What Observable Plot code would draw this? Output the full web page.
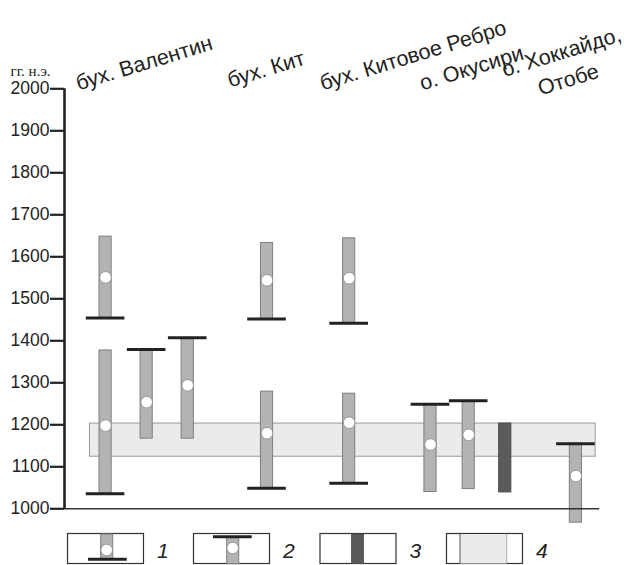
<!DOCTYPE html>
<html>
<head>
<meta charset="utf-8">
<script src="https://cdn.jsdelivr.net/npm/d3@7"></script>
<script src="https://cdn.jsdelivr.net/npm/@observablehq/plot@0.6"></script>
<style>
  html, body { margin: 0; padding: 0; background: #fff; }
  #chart svg { display: block; overflow: visible; }
</style>
</head>
<body>
<div id="chart"></div>
<script>
// ---- data ----
// slot = position of each dated interval along the (unlabelled) horizontal axis
const slots  = [0, 0, 1, 2, 3.93, 3.93, 5.93, 5.93, 7.91, 8.84, 9.73, 11.45];
const lows   = [1454, 1036, 1167, 1167, 1452, 1049, 1442, 1061, 1040, 1047, 1039, 967];
const highs  = [1648, 1377, 1379, 1407, 1633, 1279, 1644, 1274, 1249, 1257, 1203, 1155];
const mids   = [1551, 1198, 1254, 1294, 1544, 1180, 1549, 1205, 1153, 1176, null, 1078];
const kinds  = [1, 1, 2, 2, 1, 1, 1, 1, 2, 2, 3, 2]; // legend types 1..3
const bandLow = 1124, bandHigh = 1203;               // legend type 4
const bandFrom = -0.38, bandTo = 11.93;
const siteNames = ["бух. Валентин", "бух. Кит", "бух. Китовое Ребро", "о. Окусири", "о. Хоккайдо,", "Отобе"];
const yTicks = [1000, 1100, 1200, 1300, 1400, 1500, 1600, 1700, 1800, 1900, 2000];
const unitLabel = "гг. н.э.";
const legendLabels = ["1", "2", "3", "4"];

// label anchors (layout): start of each rotated line
const labelX = [-0.66, 3.03, 5.28, 7.71, 9.71, 10.59];
const labelY = [1996, 2003, 1996, 1996, 2028, 1984];

const rows = slots.map((s, i) => ({slot: s, lo: lows[i], hi: highs[i], mid: mids[i], kind: kinds[i]}));
const capRows = rows.filter(d => d.kind !== 3).map(d => ({slot: d.slot, y: d.kind === 1 ? d.lo : d.hi}));
const midRows = rows.filter(d => d.mid != null);
const labels = siteNames.map((t, i) => ({text: t, x: labelX[i], y: labelY[i]}));

const FONT = "'Liberation Sans', Arial, sans-serif";
const halfBar = 0.148, halfCap = 0.47;

const plot = Plot.plot({
  width: 624,
  height: 528,
  marginLeft: 64,
  marginRight: 26,
  marginTop: 88.3,
  marginBottom: 19.7,
  style: {fontFamily: FONT, background: "white", overflow: "visible"},
  x: {type: "linear", domain: [-1, 12], axis: null},
  y: {domain: [1000, 2000], axis: null},
  marks: [
    // light band (type 4)
    Plot.rect([{x1: bandFrom, x2: bandTo, y1: bandLow, y2: bandHigh}],
      {x1: "x1", x2: "x2", y1: "y1", y2: "y2", fill: "#ebebeb", stroke: "#9a9a9a", strokeWidth: 1}),
    // bars
    Plot.rect(rows, {
      x1: d => d.slot - halfBar, x2: d => d.slot + halfBar, y1: "lo", y2: "hi",
      fill: d => d.kind === 3 ? "#5b5b5b" : "#b3b3b3",
      stroke: d => d.kind === 3 ? "#4a4a4a" : "#7f7f7f", strokeWidth: 1
    }),
    // caps
    Plot.ruleY(capRows, {y: "y", x1: d => d.slot - halfCap, x2: d => d.slot + halfCap, stroke: "#222", strokeWidth: 3}),
    // midpoints
    Plot.dot(midRows, {x: "slot", y: "mid", r: 5.8, fill: "white", stroke: "#8a8a8a", strokeWidth: 0.8}),
    // axes
    Plot.ruleY([1000], {x1: -1, x2: 12.03, stroke: "#333", strokeWidth: 1.6}),
    Plot.ruleX([-1], {y1: 1000, y2: 2000, stroke: "#222", strokeWidth: 2.6}),
    Plot.axisY({ticks: yTicks, tickSize: 14, tickPadding: 1, fontSize: 17.5, stroke: "#222", strokeWidth: 2.2, color: "#222", tickFormat: d => String(d), label: null}),
    Plot.text([unitLabel], {frameAnchor: "top-left", dx: -54, dy: -13, text: d => d, fontSize: 15, fontFamily: "'Liberation Serif', 'Times New Roman', serif", fill: "#222", textAnchor: "start", lineAnchor: "bottom", style: "letter-spacing: 0.8px"}),
    // site labels
    Plot.text(labels, {x: "x", y: "y", text: "text", rotate: -17, textAnchor: "start", lineAnchor: "bottom", fontSize: 21.5, fill: "#222"})
  ]
});
document.getElementById("chart").appendChild(plot);

// ---- legend ----
const lg = d3.select("#chart").append("svg").attr("width", 624).attr("height", 37)
  .style("display", "block").style("font-family", FONT);
const boxW = 76, boxH = 30, boxY = 5;
const boxXs = [67, 193, 319.5, 446];
boxXs.forEach((bx, i) => {
  const g = lg.append("g").attr("transform", `translate(${bx},${boxY})`);
  g.append("rect").attr("x", 0.5).attr("y", 0.5).attr("width", boxW).attr("height", boxH).attr("fill", "white").attr("stroke", "#333").attr("stroke-width", 1.2);
  if (i === 0) {
    g.append("rect").attr("x", 33.7).attr("y", 1).attr("width", 12).attr("height", 25.5).attr("fill", "#b3b3b3").attr("stroke", "#7f7f7f");
    g.append("circle").attr("cx", 39.7).attr("cy", 17).attr("r", 5.8).attr("fill", "white").attr("stroke", "#8a8a8a").attr("stroke-width", 0.8);
    g.append("line").attr("x1", 21).attr("x2", 59.7).attr("y1", 26.3).attr("y2", 26.3).attr("stroke", "#222").attr("stroke-width", 3);
  } else if (i === 1) {
    g.append("rect").attr("x", 33.7).attr("y", 3.7).attr("width", 12).attr("height", 27).attr("fill", "#b3b3b3").attr("stroke", "#7f7f7f");
    g.append("circle").attr("cx", 39.7).attr("cy", 15).attr("r", 5.8).attr("fill", "white").attr("stroke", "#8a8a8a").attr("stroke-width", 0.8);
    g.append("line").attr("x1", 20).attr("x2", 58.7).attr("y1", 3.7).attr("y2", 3.7).attr("stroke", "#222").attr("stroke-width", 3);
  } else if (i === 2) {
    g.append("rect").attr("x", 32.2).attr("y", 1).attr("width", 11.6).attr("height", 29.5).attr("fill", "#5b5b5b").attr("stroke", "#4a4a4a");
  } else {
    g.append("rect").attr("x", 14).attr("y", 1).attr("width", 46.7).attr("height", 29.5).attr("fill", "#ebebeb").attr("stroke", "none");
    g.append("line").attr("x1", 14).attr("x2", 14).attr("y1", 1).attr("y2", 30.5).attr("stroke", "#555").attr("stroke-width", 1);
    g.append("line").attr("x1", 60.7).attr("x2", 60.7).attr("y1", 1).attr("y2", 30.5).attr("stroke", "#aaa").attr("stroke-width", 1);
  }
  lg.append("text").attr("x", bx + boxW + 14).attr("y", boxY + 25).attr("font-size", 21).attr("font-style", "italic").attr("fill", "#222").text(legendLabels[i]);
});
</script>
</body>
</html>
